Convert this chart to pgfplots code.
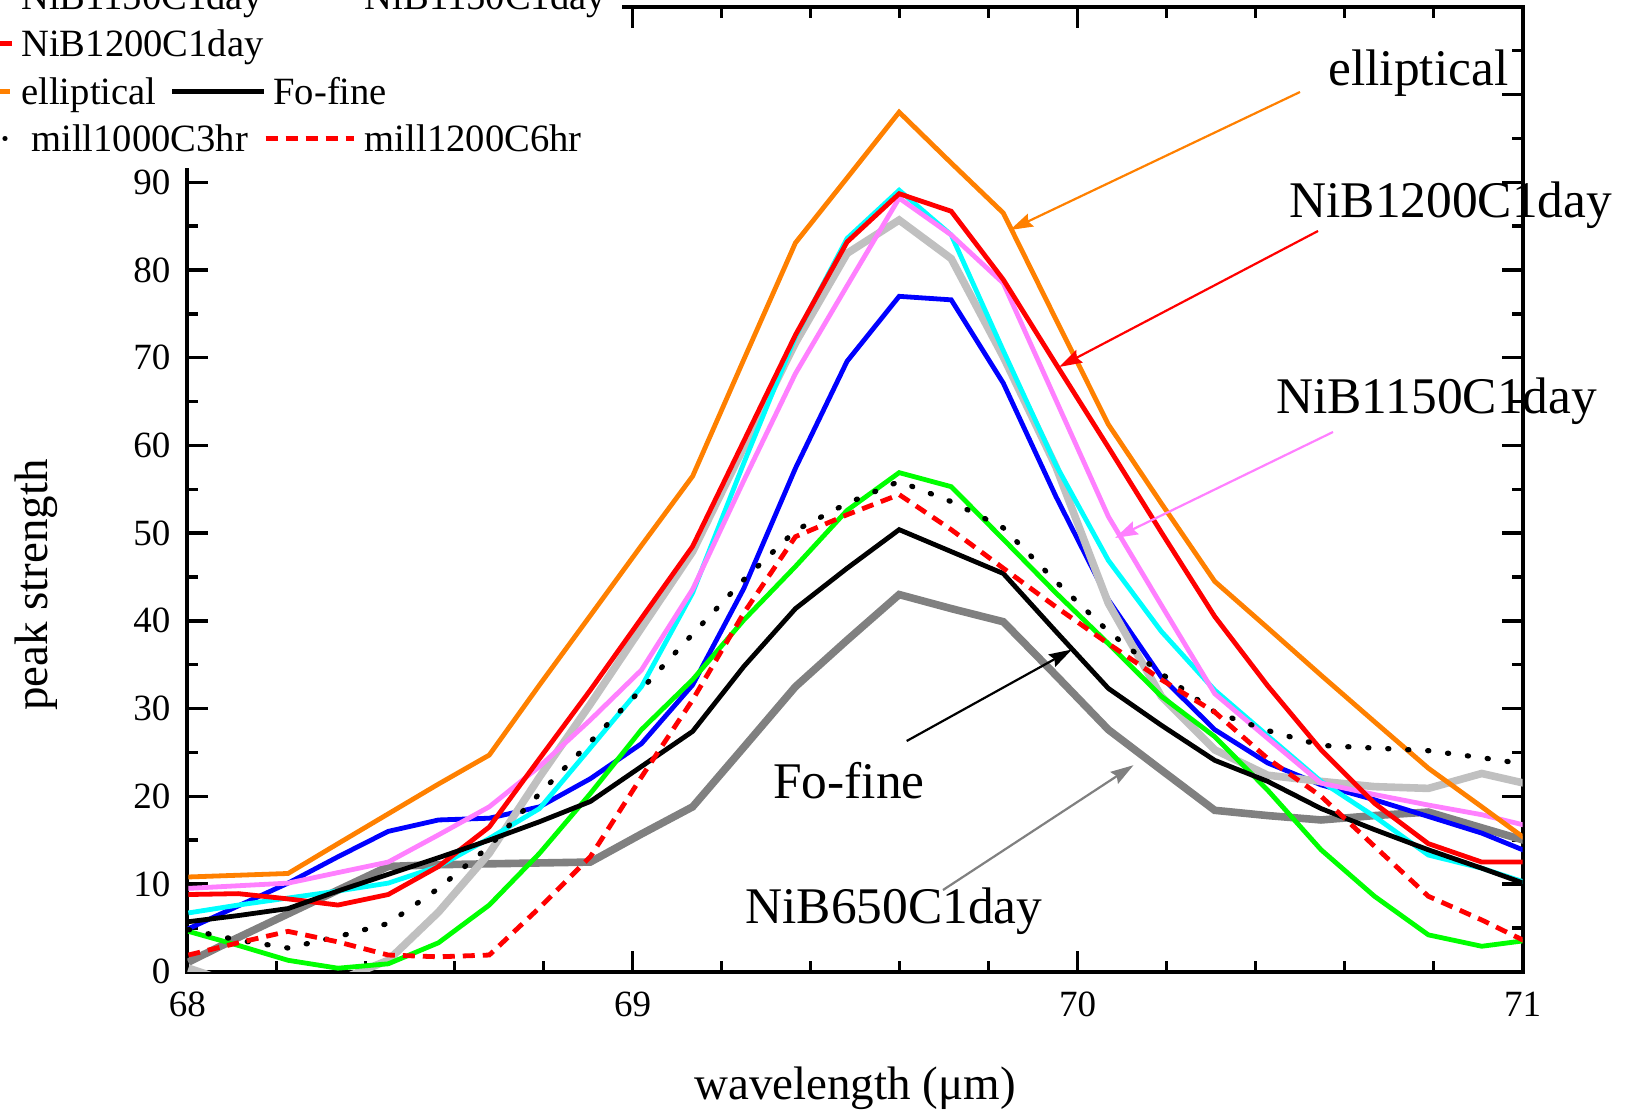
\documentclass[border=0pt]{standalone}
\usepackage{fontspec}
\setmainfont{Liberation Serif}
\usepackage{pgfplots}
\usepackage{pgfplotstable}
\pgfplotsset{compat=1.18}
\usetikzlibrary{arrows.meta}

\definecolor{corange}{RGB}{255,128,0}
\definecolor{cpink}{RGB}{255,128,255}
\definecolor{clgray}{RGB}{192,192,192}
\definecolor{cdgray}{RGB}{128,128,128}
\definecolor{ccyan}{RGB}{0,255,255}
\definecolor{cgreen}{RGB}{0,255,0}
\definecolor{cblue}{RGB}{0,0,255}
\definecolor{cred}{RGB}{255,0,0}

\pgfplotstableread{
x      orange red  cyan pink lgray blue green dotted dashed black dgray
68.002 10.8  8.8  6.7  9.5  0.4  4.9  4.6  4.8  1.9  5.7  1.1
68.114 11.0  8.9  7.6  9.8  -1.5 7.5  3.0  3.6  3.3  6.4  3.9
68.226 11.2  8.3  8.4  10.1 -2.5 10.1 1.3  2.7  4.6  7.2  6.6
68.338 14.6  7.6  9.2  11.3 -1.0 13.1 0.4  4.0  3.4  9.2  9.3
68.451 18.0  8.8  10.1 12.5 1.3  16.0 0.9  5.5  1.9  11.1 12.0
68.564 21.4  12.0 12.0 15.6 6.8  17.3 3.3  9.5  1.7  13.0 12.2
68.678 24.7  16.5 15.2 18.8 13.5 17.5 7.6  14.3 1.9  15.0 12.3
68.791 32.7  24.3 18.6 23.4 22.2 18.8 13.5 20.3 7.3  17.1 12.4
68.905 40.6  32.1 25.5 28.7 30.5 22.0 20.3 26.2 13.1 19.4 12.5
69.020 48.6  40.3 32.5 34.4 39.2 26.0 27.6 32.2 22.2 23.4 15.7
69.135 56.5  48.5 43.2 43.6 47.9 32.7 33.3 38.5 31.0 27.4 18.8
69.250 69.8  60.5 58.0 56.0 59.8 43.7 40.1 44.7 40.9 34.8 25.6
69.366 83.1  72.6 72.4 68.2 71.7 57.4 46.2 50.3 49.6 41.4 32.5
69.482 90.5  83.2 83.6 78.2 81.9 69.6 52.6 53.4 52.1 46.0 37.8
69.599 98.0  88.7 89.1 88.2 85.7 77.0 56.9 55.9 54.4 50.4 43.0
69.716 92.2  86.7 84.0 84.0 81.3 76.6 55.3 53.6 50.4 47.9 41.4
69.833 86.5  78.9 70.8 78.5 70.1 67.1 49.3 50.6 46.0 45.4 39.9
69.951 74.4  69.3 57.8 65.2 57.6 54.2 43.2 44.5 41.6 38.8 33.8
70.069 62.4  59.8 46.9 51.9 42.0 42.4 37.4 38.8 37.4 32.3 27.6
70.188 53.4  50.1 38.8 41.8 31.4 33.6 31.4 34.0 33.3 28.1 23.0
70.308 44.5  40.5 32.1 31.7 25.3 27.6 26.8 29.6 29.6 24.1 18.4
70.427 39.2  32.6 26.9 26.6 22.4 23.8 20.7 27.5 24.3 21.7 17.8
70.547 33.8  25.3 21.7 21.5 21.7 21.3 13.9 25.8 20.0 18.6 17.3
70.667 28.5  19.2 17.7 20.2 21.1 19.6 8.6  25.5 14.3 16.2 17.8
70.788 23.2  14.6 13.3 19.0 20.9 17.7 4.2  25.2 8.6  13.9 18.2
70.908 18.8  12.5 11.8 17.9 22.6 15.8 2.9  24.4 5.9  11.8 16.4
71.029 14.3  12.5 9.8  16.4 21.2 13.3 3.7  23.5 2.9  9.6  14.6
}\datatable

\newcommand{\annfont}{\fontsize{25.7}{30}\selectfont}
\newcommand{\legfont}{\fontsize{19.3}{22}\selectfont}

\begin{document}
\begin{tikzpicture}
\useasboundingbox (-93.75pt,-69.15pt) rectangle (722.75pt,485.85pt);
\clip (-93.75pt,-69.15pt) rectangle (722.75pt,485.85pt);
\begin{axis}[
  scale only axis, width=667.6pt, height=482.4pt,
  xmin=68, xmax=71, ymin=0, ymax=110,
  axis line style={line width=2pt},
  tick align=inside,
  xtick pos=both, ytick pos=both,
  xticklabel pos=lower, yticklabel pos=left,
  xtick={68,69,70,71}, xticklabels={68,69,70,71},
  minor x tick num=4,
  ytick={0,10,...,110}, yticklabels={0,10,20,30,40,50,60,70,80,90,,},
  minor y tick num=1,
  major tick length=10.5pt, minor tick length=5.5pt,
  every tick/.style={line width=1.7pt, black},
  /pgf/number format/assume math mode=true,
  tick label style={font=\fontsize{18.5}{20}\selectfont},
  xticklabel style={yshift=-6.8pt},
  yticklabel style={xshift=-5pt},
  xlabel={wavelength (μm)},
  ylabel={peak strength},
  xlabel style={font=\fontsize{23.5}{26}\selectfont, at={(axis description cs:0.5,0)}, anchor=base, yshift=-63.7pt, inner sep=0pt},
  ylabel style={font=\fontsize{23.5}{26}\selectfont, at={(axis description cs:-0.1131,0.4008)}, anchor=center, inner sep=0pt},
]
\addplot[cdgray, line width=3.8pt, no marks] table[x=x,y=dgray]{\datatable};
\addplot[cblue, line width=2.4pt, no marks] table[x=x,y=blue]{\datatable};
\addplot[clgray, line width=3.8pt, no marks] table[x=x,y=lgray]{\datatable};
\addplot[cgreen, line width=2.4pt, no marks] table[x=x,y=green]{\datatable};
\addplot[ccyan, line width=2.4pt, no marks] table[x=x,y=cyan]{\datatable};
\addplot[cpink, line width=2.4pt, no marks] table[x=x,y=pink]{\datatable};
\addplot[cred, line width=2.4pt, no marks] table[x=x,y=red]{\datatable};
\addplot[corange, line width=2.4pt, no marks] table[x=x,y=orange]{\datatable};
\addplot[black, line width=2.4pt, no marks] table[x=x,y=black]{\datatable};
\addplot[black, line width=2.6pt, line cap=round, dash pattern=on 0.6pt off 9.4pt, no marks] table[x=x,y=dotted]{\datatable};
\addplot[cred, line width=2.4pt, dash pattern=on 6pt off 4pt, no marks] table[x=x,y=dashed]{\datatable};
\end{axis}

% legend (partly cut by the picture's edge, as in the reference)
\fill[white] (-110pt,401.85pt) rectangle (217.25pt,500pt);
\draw[cpink, line width=2.4pt] (-133.75pt,487.85pt) -- (-87.5pt,487.85pt);
\node[anchor=base west, inner sep=0pt, font=\legfont] at (-83.25pt,481.15pt) {NiB1150C1day};
\draw[ccyan, line width=2.4pt] (39.25pt,487.85pt) -- (83.25pt,487.85pt);
\node[anchor=base west, inner sep=0pt, font=\legfont] at (88.5pt,481.15pt) {NiB1150C1day};
\draw[cred, line width=2.4pt] (-133.75pt,464.1pt) -- (-87.5pt,464.1pt);
\node[anchor=base west, inner sep=0pt, font=\legfont] at (-83.25pt,457.35pt) {NiB1200C1day};
\draw[corange, line width=2.4pt] (-133.75pt,440.1pt) -- (-88.5pt,440.1pt);
\node[anchor=base west, inner sep=0pt, font=\legfont] at (-83.25pt,433.35pt) {elliptical};
\draw[black, line width=2.4pt] (-7.75pt,440.1pt) -- (38pt,440.1pt);
\node[anchor=base west, inner sep=0pt, font=\legfont] at (42.75pt,433.35pt) {Fo-fine};
\draw[black, line width=2.6pt, line cap=round, dash pattern=on 0.6pt off 9.4pt] (-141.25pt,416.6pt) -- (-91.25pt,416.6pt);
\node[anchor=base west, inner sep=0pt, font=\legfont] at (-78.25pt,409.85pt) {mill1000C3hr};
\draw[cred, line width=2.4pt, dash pattern=on 6pt off 4pt] (39.05pt,416.6pt) -- (83.25pt,416.6pt);
\node[anchor=base west, inner sep=0pt, font=\legfont] at (88.5pt,409.85pt) {mill1200C6hr};

% annotations
\node[anchor=base west, inner sep=0pt, font=\annfont] at (570.25pt,443.1pt) {elliptical};
\draw[corange, line width=1.1pt, -{Stealth[length=11.5pt,width=7pt,inset=1.5pt]}] (556.25pt,439.85pt) -- (411.25pt,370.85pt);
\node[anchor=base west, inner sep=0pt, font=\annfont] at (550.75pt,377pt) {NiB1200C1day};
\draw[cred, line width=1.1pt, -{Stealth[length=11.5pt,width=7pt,inset=1.5pt]}] (565.25pt,370.35pt) -- (435.75pt,302.35pt);
\node[anchor=base west, inner sep=0pt, font=\annfont] at (544.15pt,279.1pt) {NiB1150C1day};
\draw[cpink, line width=1.1pt, -{Stealth[length=11.5pt,width=7pt,inset=1.5pt]}] (572.75pt,269.85pt) -- (463.75pt,216.85pt);
\node[anchor=base west, inner sep=0pt, font=\annfont] at (292.75pt,86.85pt) {Fo-fine};
\draw[black, line width=1.1pt, -{Stealth[length=11.5pt,width=7pt,inset=1.5pt]}] (359.6pt,115.35pt) -- (442.25pt,161.1pt);
\node[anchor=base west, inner sep=0pt, font=\annfont] at (278.75pt,24.35pt) {NiB650C1day};
\draw[cdgray, line width=1.1pt, -{Stealth[length=11.5pt,width=7pt,inset=1.5pt]}] (377.75pt,40.85pt) -- (473pt,103.25pt);
\end{tikzpicture}
\end{document}
